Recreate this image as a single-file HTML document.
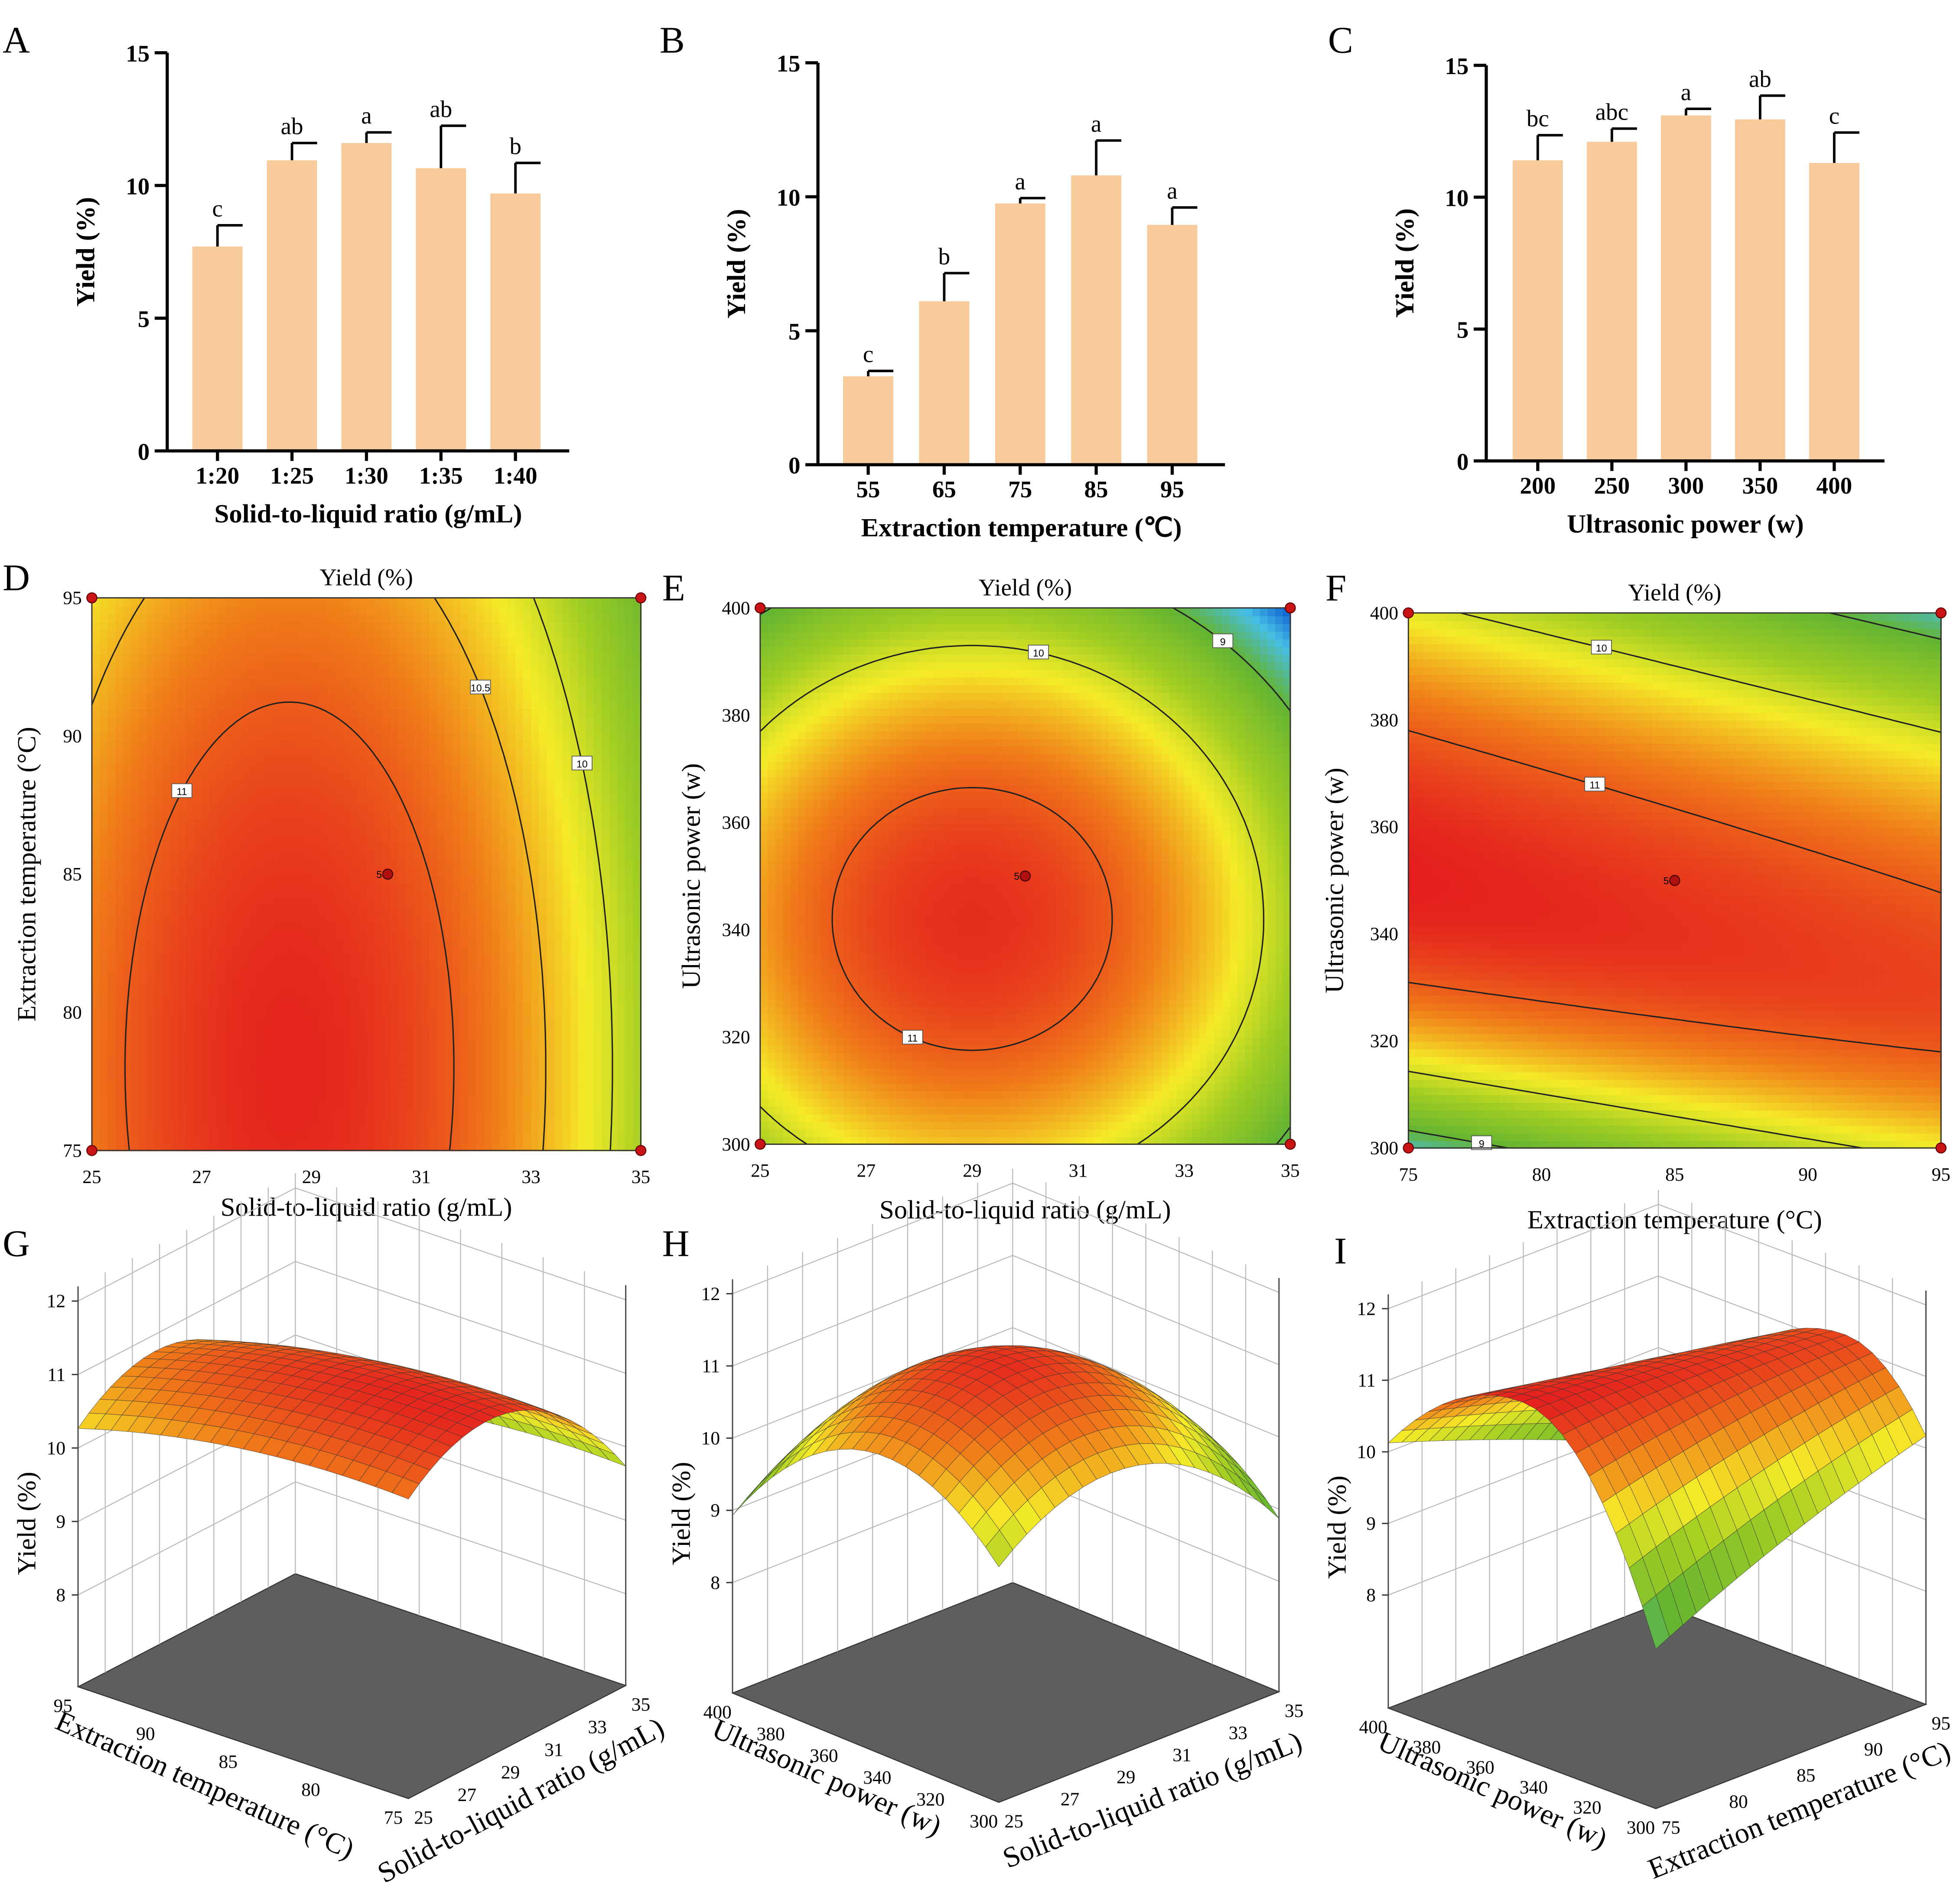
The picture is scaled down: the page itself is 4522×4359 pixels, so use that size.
<!DOCTYPE html>
<html><head><meta charset="utf-8">
<style>
html,body{margin:0;padding:0;background:#fff;}
svg{display:block;font-family:"Liberation Serif",serif;}
.tk{font-size:19px;font-weight:bold;}
.tt{font-size:21px;font-weight:bold;}
.pl{font-size:30px;}
.ct{font-size:15px;}
.cti{font-size:19px;}
</style></head>
<body>
<svg id="fig" width="4522" height="4359" viewBox="0 0 1560 1504" xmlns="http://www.w3.org/2000/svg"></svg>
<script>
// ---------- DATA ----------
const catsA = ["1:20","1:25","1:30","1:35","1:40"];
const valsA = [7.7,10.95,11.6,10.65,9.7];
const errA  = [8.5,11.6,12.0,12.25,10.85];
const letA  = ["c","ab","a","ab","b"];
const catsB = ["55","65","75","85","95"];
const valsB = [3.3,6.1,9.75,10.8,8.95];
const errB  = [3.5,7.15,9.95,12.1,9.6];
const letB  = ["c","b","a","a","a"];
const catsC = ["200","250","300","350","400"];
const valsC = [11.4,12.1,13.1,12.95,11.3];
const errC  = [12.35,12.6,13.35,13.85,12.45];
const letC  = ["bc","abc","a","ab","c"];
const yTicksBar = [0,5,10,15];
const levelsD = [10,10.5,11];
const levelsE = [9,10,11];
const levelsF = [9,10,11];

const NS="http://www.w3.org/2000/svg";
const svg=document.getElementById('fig');
function el(tag,attrs,parent,text){const e=document.createElementNS(NS,tag);for(const k in attrs)e.setAttribute(k,attrs[k]);if(text!==undefined)e.textContent=text;(parent||svg).appendChild(e);return e;}

// models (fitted by eye)
function fD(x,y){return 11.35-0.039*(x-28.6)**2-0.002*(y-78)**2;}
function fE(x,y){return 11.3-0.043*(x-29)**2-0.0005*(y-342)**2;}
function fF(x,y){const r=350-1.0*(x-75);const d=y-r;const c=d>0?0.00051:0.0011;return 11.4-c*d*d-0.012*(x-75);}

function cmap(v){
  const stops=[[0,[0,70,200]],[0.15,[70,190,230]],[0.3,[100,180,50]],[0.5,[160,205,35]],[0.65,[245,235,40]],[0.82,[240,125,25]],[1,[228,30,30]]];
  let t=(v-8.0)/(11.4-8.0);t=Math.max(0,Math.min(1,t));
  for(let i=1;i<stops.length;i++){if(t<=stops[i][0]){const a=stops[i-1],b=stops[i];const s=(t-a[0])/(b[0]-a[0]);const c=a[1].map((q,j)=>Math.round(q+(b[1][j]-q)*s));return `rgb(${c})`;}}
  return 'rgb(228,30,30)';
}

// ---------- BAR CHARTS ----------
function bars(cfg){
  const g=el('g',{});
  
  
  const {x0,x1,yTop,yBot,cats,vals,errs,lets}=cfg;
  const sy=v=>yBot-(v/15)*(yBot-yTop);
  const sx=i=>cfg.c0+cfg.step*i;
  cats.forEach((c,i)=>{
    const cx=sx(i),bw=40;
    const r=el('rect',{x:cx-bw/2,y:sy(vals[i]),width:bw,height:yBot-sy(vals[i]),fill:'#f8cb9c'},g);
    
    el('line',{x1:cx,x2:cx,y1:sy(vals[i]),y2:sy(errs[i]),stroke:'#000','stroke-width':2},g);
    el('line',{x1:cx,x2:cx+20,y1:sy(errs[i]),y2:sy(errs[i]),stroke:'#000','stroke-width':2},g);
    const t=el('text',{x:cx,y:sy(errs[i])-7,'text-anchor':'middle','font-size':19},g,lets[i]);
    
    el('line',{x1:cx,x2:cx,y1:yBot,y2:yBot+8,stroke:'#000','stroke-width':2.5},g);
    el('text',{x:cx,y:yBot+26,'text-anchor':'middle',class:'tk'},g,c);
  });
  el('line',{x1:x0,x2:x0,y1:yTop,y2:yBot,stroke:'#000','stroke-width':2.5},g);
  el('line',{x1:x0,x2:x1,y1:yBot,y2:yBot,stroke:'#000','stroke-width':2.5},g);
  yTicksBar.forEach(t=>{el('line',{x1:x0-10,x2:x0,y1:sy(t),y2:sy(t),stroke:'#000','stroke-width':2.5},g);
    el('text',{x:x0-14,y:sy(t)+7,'text-anchor':'end',class:'tk'},g,t);});
  const yt=el('text',{transform:`translate(${x0-58},${(yTop+yBot)/2}) rotate(-90)`,'text-anchor':'middle',class:'tt'},g,'Yield (%)');
  
  const xt=el('text',{x:(x0+x1)/2,y:yBot+57,'text-anchor':'middle',class:'tt'},g,cfg.xt);
  
  const pl=el('text',{x:cfg.lx,y:cfg.ly,class:'pl'},g,cfg.letter);
  
}
bars({name:'bar-chart-a',x0:133,x1:453,yTop:42,yBot:359,cats:catsA,vals:valsA,errs:errA,lets:letA,c0:173,step:59.3,xt:'Solid-to-liquid ratio (g/mL)',letter:'A',lx:2,ly:42});
bars({name:'bar-chart-b',x0:651,x1:975,yTop:50,yBot:370,cats:catsB,vals:valsB,errs:errB,lets:letB,c0:691,step:60.5,xt:'Extraction temperature (℃)',letter:'B',lx:525,ly:42});
bars({name:'bar-chart-c',x0:1183,x1:1500,yTop:52,yBot:367,cats:catsC,vals:valsC,errs:errC,lets:letC,c0:1224,step:59,xt:'Ultrasonic power (w)',letter:'C',lx:1057,ly:42});

// ---------- CONTOUR PLOTS ----------
function contour(cfg){
  const g=el('g',{});
  
  
  const {px0,px1,py0,py1,xr,yr,f,levels}=cfg;
  const sx=x=>px0+(x-xr[0])/(xr[1]-xr[0])*(px1-px0);
  const sy=y=>py1-(y-yr[0])/(yr[1]-yr[0])*(py1-py0);
  const N=70;
  const cw=(px1-px0)/N,ch=(py1-py0)/N;
  for(let i=0;i<N;i++)for(let j=0;j<N;j++){
    const x=xr[0]+(i+0.5)/N*(xr[1]-xr[0]),y=yr[0]+(j+0.5)/N*(yr[1]-yr[0]);
    el('rect',{x:px0+i*cw,y:py1-(j+1)*ch,width:cw+0.6,height:ch+0.6,fill:cmap(f(x,y))},g);
  }
  const M=80;
  const gx=i=>xr[0]+i/M*(xr[1]-xr[0]),gy=j=>yr[0]+j/M*(yr[1]-yr[0]);
  levels.forEach(L=>{
    let d='';let segs=[];
    for(let i=0;i<M;i++)for(let j=0;j<M;j++){
      const c=[[gx(i),gy(j)],[gx(i+1),gy(j)],[gx(i+1),gy(j+1)],[gx(i),gy(j+1)]];
      const v=c.map(p=>f(p[0],p[1])-L);
      const pts=[];
      for(let k=0;k<4;k++){const a=v[k],b=v[(k+1)%4];if((a<0)!==(b<0)){const t=a/(a-b);const p=c[k],q=c[(k+1)%4];pts.push([p[0]+(q[0]-p[0])*t,p[1]+(q[1]-p[1])*t]);}}
      for(let k=0;k+1<pts.length;k+=2){d+=`M${sx(pts[k][0]).toFixed(1)},${sy(pts[k][1]).toFixed(1)}L${sx(pts[k+1][0]).toFixed(1)},${sy(pts[k+1][1]).toFixed(1)}`;segs.push(pts[k]);}
    }
    el('path',{d,stroke:'#222','stroke-width':1.1,fill:'none'},g);
    if(segs.length){const lab=segs[Math.floor(segs.length*0.35)];
      el('rect',{x:sx(lab[0])-8,y:sy(lab[1])-6,width:16,height:11,fill:'#fff',stroke:'#555','stroke-width':0.6},g);
      el('text',{x:sx(lab[0]),y:sy(lab[1])+3,'text-anchor':'middle','font-size':8,'font-family':'Liberation Sans'},g,L);}
  });
  el('rect',{x:px0,y:py0,width:px1-px0,height:py1-py0,fill:'none',stroke:'#333','stroke-width':1},g);
  [[xr[0],yr[0]],[xr[1],yr[0]],[xr[0],yr[1]],[xr[1],yr[1]]].forEach(p=>{
    const c=el('circle',{cx:sx(p[0]),cy:sy(p[1]),r:4,fill:'#c81414',stroke:'#600','stroke-width':0.8},g);
    
  });
  const mx=(xr[0]+xr[1])/2,my=(yr[0]+yr[1])/2;
  el('circle',{cx:sx(mx)+cfg.cdx,cy:sy(my),r:4,fill:'#b01010',stroke:'#400','stroke-width':0.8},g);
  el('text',{x:sx(mx)+cfg.cdx-9,y:sy(my)+3,'font-size':8,'font-family':'Liberation Sans'},g,'5');
  cfg.xt_.forEach(t=>{el('text',{x:sx(t),y:py1+26,'text-anchor':'middle',class:'ct'},g,t);});
  cfg.yt_.forEach(t=>{el('text',{x:px0-8,y:sy(t)+5,'text-anchor':'end',class:'ct'},g,t);});
  el('text',{x:(px0+px1)/2,y:py0-10,'text-anchor':'middle',class:'cti'},g,'Yield (%)');
  const xt=el('text',{x:(px0+px1)/2,y:py1+cfg.xty,'text-anchor':'middle','font-size':21},g,cfg.xt);
  
  const yt=el('text',{transform:`translate(${px0-cfg.ytx},${(py0+py1)/2}) rotate(-90)`,'text-anchor':'middle','font-size':21},g,cfg.yt);
  
  const pl=el('text',{x:cfg.lx,y:cfg.ly,class:'pl'},g,cfg.letter);
  
}
contour({name:'contour-d',px0:73,px1:510,py0:476,py1:916,xr:[25,35],yr:[75,95],f:fD,levels:levelsD,cdx:17,
  xt_:[25,27,29,31,33,35],yt_:[75,80,85,90,95],xt:'Solid-to-liquid ratio (g/mL)',yt:'Extraction temperature (°C)',xty:52,ytx:45,letter:'D',lx:2,ly:470});
contour({name:'contour-e',px0:605,px1:1027,py0:484,py1:911,xr:[25,35],yr:[300,400],f:fE,levels:levelsE,cdx:0,
  xt_:[25,27,29,31,33,35],yt_:[300,320,340,360,380,400],xt:'Solid-to-liquid ratio (g/mL)',yt:'Ultrasonic power (w)',xty:59,ytx:48,letter:'E',lx:527,ly:478});
contour({name:'contour-f',px0:1121,px1:1545,py0:488,py1:914,xr:[75,95],yr:[300,400],f:fF,levels:levelsF,cdx:0,
  xt_:[75,80,85,90,95],yt_:[300,320,340,360,380,400],xt:'Extraction temperature (°C)',yt:'Ultrasonic power (w)',xty:64,ytx:52,letter:'F',lx:1055,ly:478});

// ---------- 3D SURFACES ----------
function surf(cfg){
  const g=el('g',{});
  
  
  const {F0,U,V,zs,z0,ur,vr,f}=cfg;
  const P=(u,v,z)=>[F0[0]+u*U[0]+v*V[0],F0[1]+u*U[1]+v*V[1]-(z-z0)*zs];
  const H=12.2;
  const fl=[P(0,0,z0),P(1,0,z0),P(1,1,z0),P(0,1,z0)];
  el('polygon',{points:fl.map(p=>p.join(',')).join(' '),fill:'#5e5e5e',stroke:'#333','stroke-width':0.8},g);
  for(let k=0;k<=8;k++){const t=k/8;
    let a=P(t,1,z0),b=P(t,1,H);el('line',{x1:a[0],y1:a[1],x2:b[0],y2:b[1],stroke:'#bbb','stroke-width':0.8},g);
    a=P(1,t,z0);b=P(1,t,H);el('line',{x1:a[0],y1:a[1],x2:b[0],y2:b[1],stroke:'#bbb','stroke-width':0.8},g);}
  [8,9,10,11,12].forEach(z=>{let a=P(0,1,z),b=P(1,1,z),c=P(1,0,z);
    el('polyline',{points:[a,b,c].map(p=>p.join(',')).join(' '),fill:'none',stroke:'#bbb','stroke-width':0.8},g);
    const t=P(0,1,z);el('line',{x1:t[0]-5,y1:t[1],x2:t[0],y2:t[1],stroke:'#333'},g);
    el('text',{x:t[0]-10,y:t[1]+5,'text-anchor':'end',class:'ct'},g,z);});
  let a=P(0,1,z0),b=P(0,1,H);el('line',{x1:a[0],y1:a[1],x2:b[0],y2:b[1],stroke:'#444','stroke-width':1},g);
  a=P(1,0,z0);b=P(1,0,H);el('line',{x1:a[0],y1:a[1],x2:b[0],y2:b[1],stroke:'#444','stroke-width':1},g);
  const N=20,quads=[];
  const val=(i,j)=>f(ur[0]+i/N*(ur[1]-ur[0]),vr[0]+j/N*(vr[1]-vr[0]));
  for(let i=0;i<N;i++)for(let j=0;j<N;j++){
    const pts=[[i,j],[i+1,j],[i+1,j+1],[i,j+1]].map(q=>P(q[0]/N,q[1]/N,val(q[0],q[1])));
    const zc=(val(i,j)+val(i+1,j)+val(i+1,j+1)+val(i,j+1))/4;
    quads.push({pts,zc,d:i+j});
  }
  quads.sort((p,q)=>q.d-p.d);
  quads.forEach(q=>el('polygon',{points:q.pts.map(p=>p[0].toFixed(1)+','+p[1].toFixed(1)).join(' '),fill:cmap(q.zc),stroke:'#333','stroke-width':0.35,'stroke-opacity':0.7},g));
  cfg.uT.forEach(t=>{const u=(t-ur[0])/(ur[1]-ur[0]);const p=P(u,0,z0);el('text',{x:p[0]+12,y:p[1]+20,'text-anchor':'middle',class:'ct'},g,t);});
  cfg.vT.forEach(t=>{const v=(t-vr[0])/(vr[1]-vr[0]);const p=P(0,v,z0);el('text',{x:p[0]-12,y:p[1]+20,'text-anchor':'middle',class:'ct'},g,t);});
  const uL=el('text',{transform:`translate(${cfg.uLab[0]},${cfg.uLab[1]}) rotate(${cfg.uLab[2]})`,'text-anchor':'middle','font-size':23},g,cfg.uTitle);
  
  const vL=el('text',{transform:`translate(${cfg.vLab[0]},${cfg.vLab[1]}) rotate(${cfg.vLab[2]})`,'text-anchor':'middle','font-size':23},g,cfg.vTitle);
  
  const zp=P(0,1,10);
  el('text',{transform:`translate(${zp[0]-34},${zp[1]+60}) rotate(-90)`,'text-anchor':'middle','font-size':21},g,'Yield (%)');
  const pl=el('text',{x:cfg.lx,y:cfg.ly,class:'pl'},g,cfg.letter);
  
}
surf({name:'surface-g',F0:[325,1432],U:[173,-90],V:[-263,-89],zs:58.5,z0:6.75,ur:[25,35],vr:[75,95],f:fD,
  uT:[25,27,29,31,33,35],vT:[75,80,85,90,95],uTitle:'Solid-to-liquid ratio (g/mL)',vTitle:'Extraction temperature (°C)',
  uLab:[418,1440,-28],vLab:[160,1428,24],letter:'G',lx:2,ly:1000});
surf({name:'surface-h',F0:[795,1435],U:[223,-88],V:[-212,-87],zs:57.5,z0:6.47,ur:[25,35],vr:[300,400],f:fE,
  uT:[25,27,29,31,33,35],vT:[300,320,340,360,380,400],uTitle:'Solid-to-liquid ratio (g/mL)',vTitle:'Ultrasonic power (w)',
  uLab:[920,1440,-22],vLab:[655,1422,24],letter:'H',lx:527,ly:1000});
surf({name:'surface-i',F0:[1318,1440],U:[215,-83],V:[-213,-80],zs:57,z0:6.42,ur:[75,95],vr:[300,400],f:fF,
  uT:[75,80,85,90,95],vT:[300,320,340,360,380,400],uTitle:'Extraction temperature (°C)',vTitle:'Ultrasonic power (w)',
  uLab:[1435,1448,-22],vLab:[1185,1432,24],letter:'I',lx:1062,ly:1006});
</script>
</body></html>
